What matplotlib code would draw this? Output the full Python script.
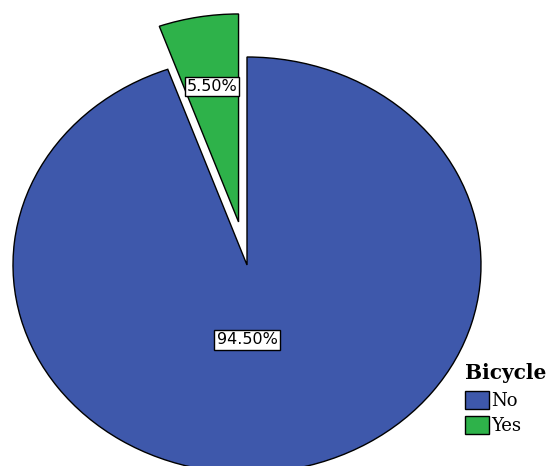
import matplotlib
matplotlib.use("Agg")
import matplotlib.pyplot as plt

categories = ["No", "Yes"]
values = [94.5, 5.5]
colors = ["#3E58AB", "#2EB24A"]
legend_title = "Bicycle"

W, H = 549, 466
fig = plt.figure(figsize=(W / 100, H / 100), dpi=100)
ax = fig.add_axes([0, 0, 1, 1])

# pixel mapping of the (elliptical) pie
cx, cy, rx, ry = 247, 265, 234, 208

start = 90 + 360 * values[1] / sum(values)
wedges, texts, autotexts = ax.pie(
    values, colors=colors, startangle=start, counterclock=True,
    explode=[0, 0.21], autopct="%.2f%%", pctdistance=0.66,
    wedgeprops=dict(edgecolor="black", linewidth=1.0),
    textprops=dict(fontsize=11.5, family="DejaVu Sans"),
)
ax.set_aspect("auto")
ax.set_xlim(-cx / rx, (W - cx) / rx)
ax.set_ylim((cy - H) / ry, cy / ry)
ax.set_axis_off()

# label positions
autotexts[0].set_position((0.0, (cy - 340) / ry))
for t in autotexts:
    t.set_bbox(dict(facecolor="white", edgecolor="black", linewidth=1.0, pad=1.5))
    t.set_ha("center")
    t.set_va("center")

fig.text(465 / W, 1 - 373 / H, legend_title, family="DejaVu Serif",
         weight="bold", size=14.5, ha="left", va="center")

leg = fig.legend(
    wedges, categories, loc="upper left",
    bbox_to_anchor=(465 / W, 1 - 391 / H), frameon=False,
    prop=dict(family="DejaVu Serif", size=13),
    handlelength=1.35, handleheight=1.15, handletextpad=0.1,
    labelspacing=0.32, borderpad=0, borderaxespad=0,
)

fig.savefig("out.png", dpi=100)
